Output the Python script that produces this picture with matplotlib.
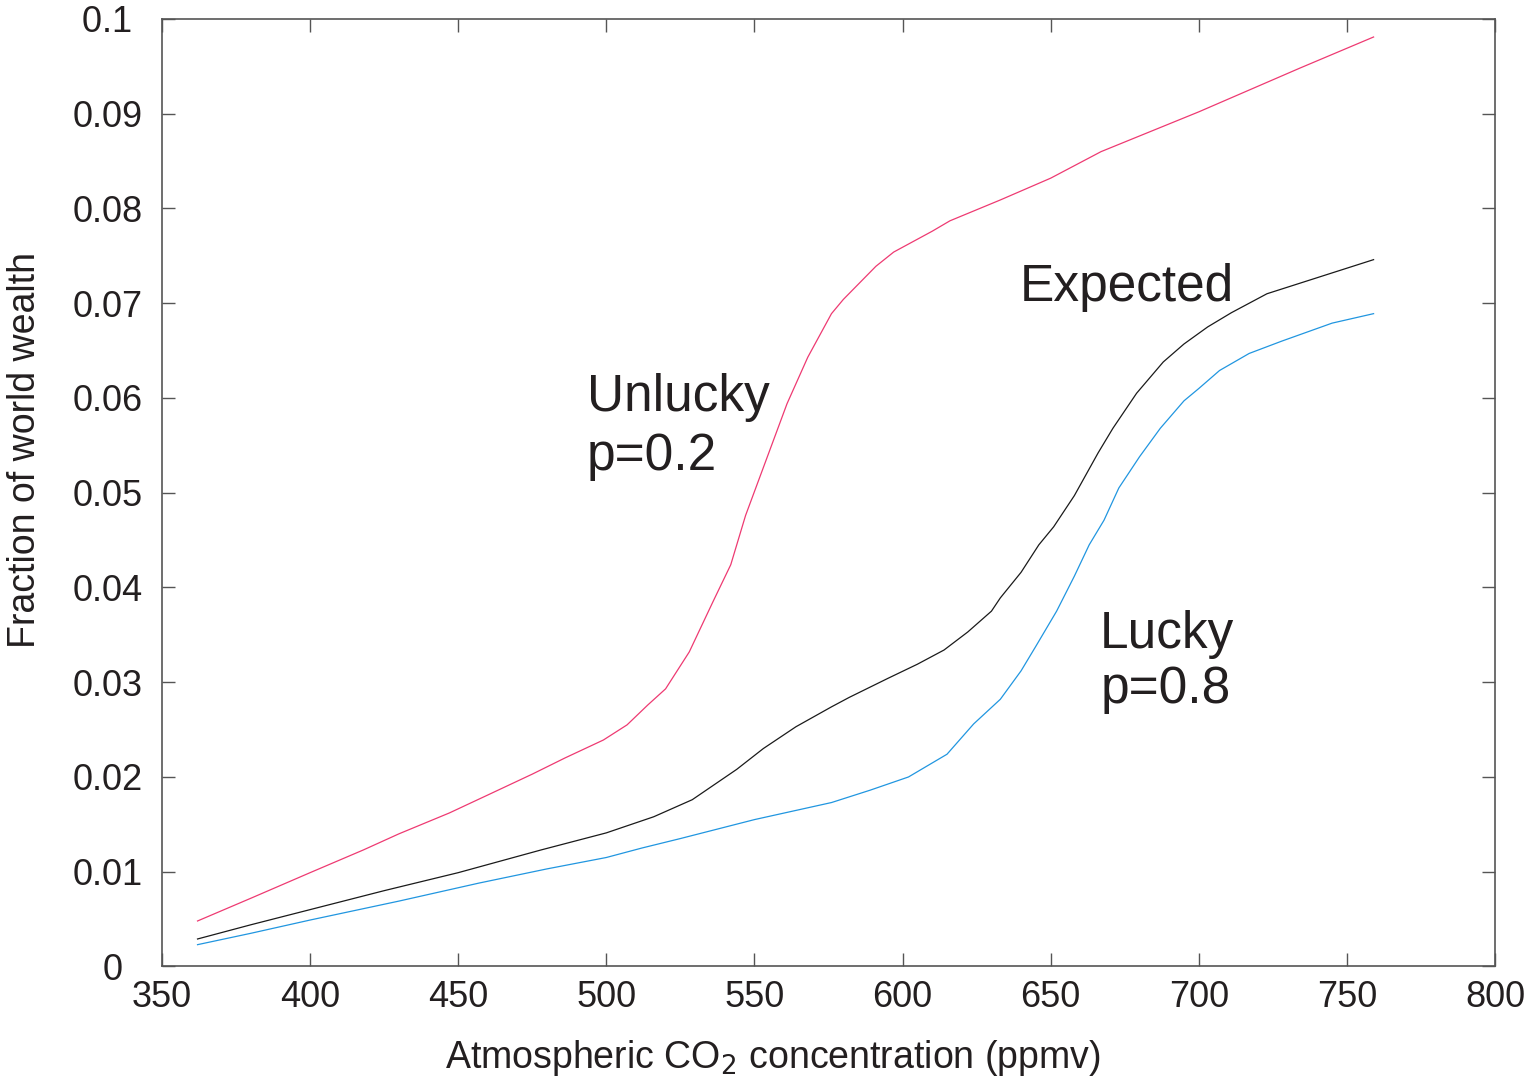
import numpy as np
import matplotlib
matplotlib.use('Agg')
import matplotlib.pyplot as plt

# values
unlucky_x = [362, 380, 400, 418, 430, 447, 460, 475, 486, 499, 507, 514, 520, 528, 536,
             542, 547, 554, 561, 568, 576, 580, 591, 597, 610, 616, 633, 650, 667, 700,
             734, 759]
unlucky_y = [0.0048, 0.0072, 0.0099, 0.0123, 0.0140, 0.0162, 0.0181, 0.0203, 0.0220,
             0.0239, 0.0255, 0.0276, 0.0293, 0.0332, 0.0385, 0.0424, 0.0476, 0.0535,
             0.0594, 0.0643, 0.0689, 0.0704, 0.0739, 0.0754, 0.0776, 0.0787, 0.0809,
             0.0832, 0.0860, 0.0902, 0.0948, 0.0981]

expected_x = [362, 380, 400, 425, 450, 478, 500, 516, 529, 544, 553, 564, 576, 582, 595,
              605, 614, 622, 630, 633, 640, 646, 651, 658, 666, 671, 679, 688, 695, 703,
              711, 723, 740, 759]
expected_y = [0.0029, 0.0044, 0.0060, 0.0080, 0.0099, 0.0123, 0.0141, 0.0158, 0.0176,
              0.0208, 0.0230, 0.0253, 0.0274, 0.0284, 0.0304, 0.0319, 0.0334, 0.0353,
              0.0375, 0.0389, 0.0416, 0.0445, 0.0464, 0.0497, 0.0542, 0.0568, 0.0605,
              0.0638, 0.0657, 0.0675, 0.0690, 0.0710, 0.0727, 0.0746]

lucky_x = [362, 380, 400, 430, 457, 480, 500, 512, 525, 550, 576, 589, 602, 615, 624,
           633, 640, 645, 652, 658, 663, 668, 673, 680, 687, 695, 700, 707, 717, 728,
           745, 759]
lucky_y = [0.0023, 0.0035, 0.0049, 0.0069, 0.0088, 0.0103, 0.0115, 0.0125, 0.0135,
           0.0155, 0.0173, 0.0186, 0.0200, 0.0224, 0.0256, 0.0282, 0.0312, 0.0338,
           0.0375, 0.0412, 0.0445, 0.0471, 0.0505, 0.0538, 0.0568, 0.0597, 0.0610,
           0.0629, 0.0647, 0.0660, 0.0679, 0.0689]

xticks = [350, 400, 450, 500, 550, 600, 650, 700, 750, 800]
yticks = [0, 0.01, 0.02, 0.03, 0.04, 0.05, 0.06, 0.07, 0.08, 0.09, 0.1]
ytick_labels = ['0  ', '0.01', '0.02', '0.03', '0.04', '0.05', '0.06', '0.07', '0.08', '0.09', '0.1 ']

plt.rcParams['font.family'] = ['Liberation Sans', 'DejaVu Sans']
plt.rcParams['mathtext.fontset'] = 'custom'
plt.rcParams['mathtext.rm'] = 'Liberation Sans Narrow'

txt = '#231f20'

fig = plt.figure(figsize=(15.34, 10.79), dpi=100)
ax = fig.add_axes([0.1056, 0.1043, 0.8690, 0.8781])

ax.plot(unlucky_x, unlucky_y, color='#ee3a72', lw=0.9)
ax.plot(expected_x, expected_y, color='#1a1a1a', lw=0.9)
ax.plot(lucky_x, lucky_y, color='#2196e0', lw=0.9)

ax.set_xlim(350, 800)
ax.set_ylim(0, 0.1)
ax.set_xticks(xticks)
ax.set_xticklabels([str(v) for v in xticks])
ax.set_yticks(yticks)
ax.set_yticklabels(ytick_labels)

ax.tick_params(direction='in', length=9.5, width=1.0, color='#555555',
               labelsize=26, labelcolor=txt, top=True, right=True)
ax.tick_params(axis='x', pad=10)
ax.tick_params(axis='y', pad=14)
for s in ax.spines.values():
    s.set_color('#555555')
    s.set_linewidth(1.2)

ax.set_xlabel(r'Atmospheric CO$_2$ concentration (ppmv)', fontsize=27, color=txt,
              family=['Liberation Sans Narrow', 'Liberation Sans'])
ax.xaxis.set_label_coords(0.458, -0.075)
ax.set_ylabel('Fraction of world wealth', fontsize=27, color=txt)
ax.yaxis.set_label_coords(-0.089, 0.545)

ax.text(493.5, 0.0586, 'Unlucky', fontsize=37, color=txt, va='baseline')
ax.text(493.5, 0.0524, 'p=0.2', fontsize=37, color=txt, va='baseline')
ax.text(639.7, 0.0702, 'Expected', fontsize=37, color=txt, va='baseline')
ax.text(666.7, 0.0336, 'Lucky', fontsize=37, color=txt, va='baseline')
ax.text(666.7, 0.0278, 'p=0.8', fontsize=37, color=txt, va='baseline')

fig.savefig('out.png', dpi=100)
